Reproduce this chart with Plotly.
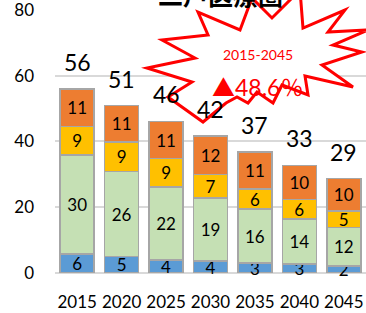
import plotly.graph_objects as go

years = ['2015', '2020', '2025', '2030', '2035', '2040', '2045']
age_0_14 = [5.8, 5.0, 4.0, 3.6, 3.0, 2.7, 2.2]
age_15_64 = [30.1, 25.8, 22.1, 19.2, 16.4, 13.8, 11.6]
age_65_74 = [8.6, 9.0, 8.7, 7.1, 6.2, 5.8, 5.0]
age_75_up = [11.4, 11.1, 11.3, 11.7, 11.2, 10.4, 9.9]
y_ticks = [0, 20, 40, 60, 80]
title_text = '二戸医療圏'
burst_line1 = '2015-2045'
burst_line2 = '▲48.6％'

totals = [a + b + c + d for a, b, c, d in zip(age_0_14, age_15_64, age_65_74, age_75_up)]

FONT = 'Lato, Noto Sans CJK JP, sans-serif'
W, H = 366, 313
Y_TOP = 80.3
ML, MR, MT, MB = 55, 0, 9, 40
PW, PH = W - ML - MR, H - MT - MB

series = [
    ('0-14歳', age_0_14, '#5B9BD5'),
    ('15-64歳', age_15_64, '#C5E0B4'),
    ('65-74歳', age_65_74, '#FFC000'),
    ('75歳以上', age_75_up, '#ED7D31'),
]

fig = go.Figure()
for name, vals, col in series:
    fig.add_trace(go.Bar(
        x=years, y=vals, name=name,
        marker=dict(color=col, line=dict(color='#A6A6A6', width=1.5)),
        texttemplate='%{y:.0f}', textposition='inside',
        insidetextanchor='middle', textangle=0,
        insidetextfont=dict(family=FONT, size=17, color='#000000'),
        cliponaxis=False, hoverinfo='skip',
    ))

annotations = []
for i, t in enumerate(totals):
    annotations.append(dict(
        x=i, y=t, xref='x', yref='y', text=f'{t:.0f}', showarrow=False,
        yanchor='middle', yshift=27, font=dict(family=FONT, size=23, color='#000000')))


def px(x, y):
    return (x - ML) / PW, (H - MB - y) / PH


burst_pts = [
    (147, 68), (192, 82), (168, 97), (203, 122), (226, 103), (237, 97),
    (248, 103), (257, 92), (273, 103), (282, 85), (308, 95), (305, 76),
    (353, 87), (322, 65), (362, 52), (333, 45), (368, 30), (328, 32),
    (345, 10), (303, 28), (300, -10), (272, 18), (252, -2), (240, 30),
    (198, 12), (208, 35), (162, 40), (195, 58),
]
path = 'M ' + ' L '.join('%.4f,%.4f' % px(x, y) for x, y in burst_pts) + ' Z'

shapes = [dict(type='path', path=path, xref='paper', yref='paper',
               line=dict(color='#FF0000', width=3), fillcolor='#FFFFFF', layer='above')]

tx, ty = px(258, 44)
annotations.append(dict(x=tx, y=ty, xref='paper', yref='paper', text=burst_line1,
                        showarrow=False, font=dict(family=FONT, size=14, color='#FF0000')))
tx, ty = px(257, 71)
annotations.append(dict(x=tx, y=ty, xref='paper', yref='paper', text=burst_line2,
                        showarrow=False, font=dict(family=FONT, size=23, color='#FF0000')))
tx, ty = px(220, -6)
annotations.append(dict(x=tx, y=ty, xref='paper', yref='paper', text='<b>' + title_text + '</b>',
                        showarrow=False, yanchor='middle',
                        font=dict(family='Noto Sans CJK JP', size=25, color='#000000')))

fig.update_layout(
    width=W, height=H, barmode='stack', bargap=0.235,
    margin=dict(l=ML, r=MR, t=MT, b=MB, autoexpand=False),
    paper_bgcolor='#FFFFFF', plot_bgcolor='#FFFFFF',
    showlegend=False,
    font=dict(family=FONT, color='#000000'),
    uniformtext=dict(minsize=17, mode='show'),
    shapes=shapes, annotations=annotations,
)
fig.update_xaxes(type='category', range=[-0.5, 6.5], showgrid=False, showline=False, ticks='',
                 tickfont=dict(family=FONT, size=17, color='#000000'),
                 ticklabelstandoff=17, automargin=False)
fig.update_yaxes(range=[0, Y_TOP], tickvals=y_ticks, showgrid=True, gridcolor='#D9D9D9',
                 gridwidth=2, zeroline=True, zerolinecolor='#D9D9D9', zerolinewidth=2,
                 showline=False, ticks='', ticklabeloverflow='allow',
                 tickfont=dict(family=FONT, size=17, color='#000000'),
                 ticklabelstandoff=20, automargin=False)

fig.write_html('out.html', config={'displayModeBar': False},
               post_script="document.body.style.margin='0';")
